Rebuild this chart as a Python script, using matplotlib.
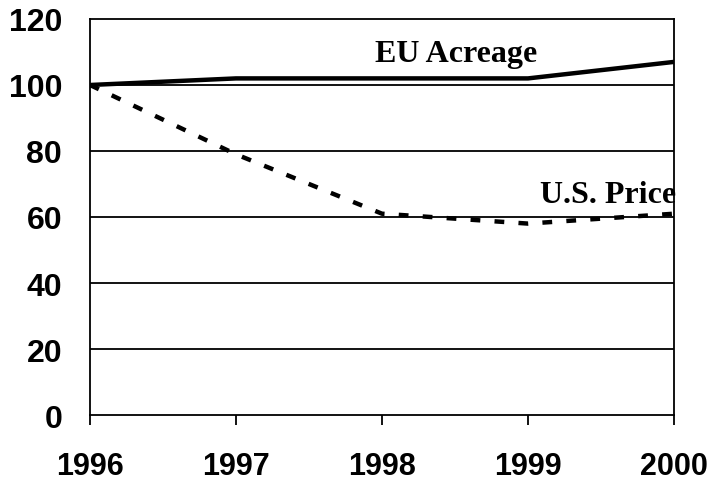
import matplotlib
matplotlib.use("Agg")
import matplotlib.pyplot as plt

years = [1996, 1997, 1998, 1999, 2000]
eu_acreage = [100, 102, 102, 102, 107]
us_price = [100, 79, 61, 58, 61]
y_ticks = [0, 20, 40, 60, 80, 100, 120]

fig = plt.figure(figsize=(7.13, 4.81), dpi=100)
ax = fig.add_axes([90/713, 1 - 416/481, (674-90)/713, (416-20)/481])

for yv in y_ticks[1:-1]:
    ax.axhline(yv, color="black", lw=1.3, zorder=1)

ax.plot(years, eu_acreage, color="black", lw=3.2, solid_capstyle="butt", zorder=3)
ax.plot(years, us_price, color="black", lw=3.2, dashes=(2.2, 3.2), zorder=3)

ax.set_xlim(1996, 2000)
ax.set_ylim(0, 120)
ax.set_xticks(years)
ax.set_yticks(y_ticks)
ax.tick_params(axis="x", direction="out", length=7, width=1.3, pad=19)
ax.tick_params(axis="y", length=0, pad=20)
for lab in ax.get_xticklabels():
    lab.set_fontfamily("Liberation Sans")
    lab.set_fontweight("bold")
    lab.set_fontsize(22)
for lab in ax.get_yticklabels():
    lab.set_fontfamily("Liberation Sans")
    lab.set_fontweight("bold")
    lab.set_fontsize(23)
for s in ax.spines.values():
    s.set_linewidth(1.3)
    s.set_color("black")

ax.text(1998.51, 109.4, "EU Acreage", family="Liberation Serif", weight="bold",
        fontsize=23, ha="center", va="center")
ax.text(1999.55, 66.8, "U.S. Price", family="Liberation Serif", weight="bold",
        fontsize=23, ha="center", va="center")

fig.savefig("out.png", dpi=100)
